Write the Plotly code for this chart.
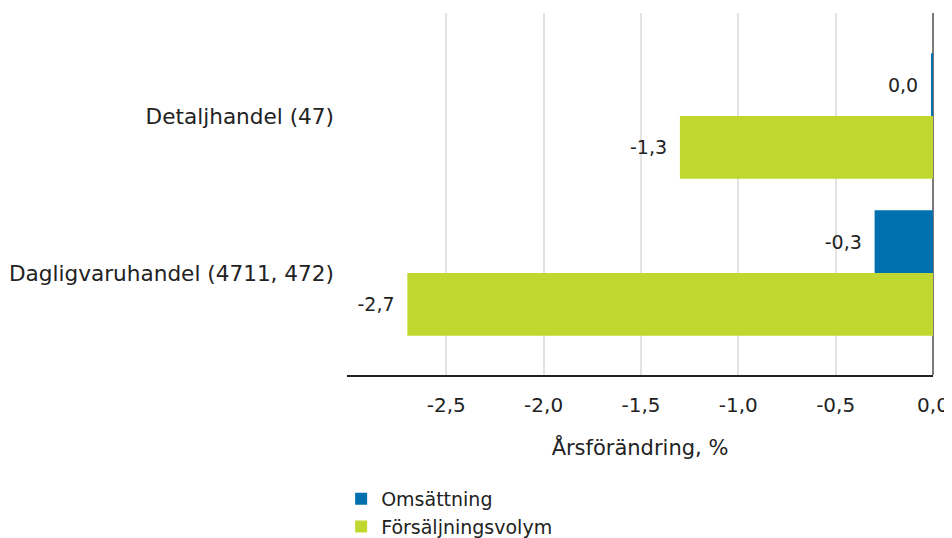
import plotly.graph_objects as go

categories = ["Detaljhandel (47)", "Dagligvaruhandel (4711, 472)"]
series_names = ["Omsättning", "Försäljningsvolym"]
omsattning = [-0.01, -0.3]
forsaljningsvolym = [-1.3, -2.7]
omsattning_labels = ["0,0", "-0,3"]
forsaljningsvolym_labels = ["-1,3", "-2,7"]
colors = ["#0070ae", "#c0d730"]
x_tick_values = [-2.5, -2.0, -1.5, -1.0, -0.5, 0.0]
x_tick_labels = ["-2,5", "-2,0", "-1,5", "-1,0", "-0,5", "0,0"]
x_title = "Årsförändring, %"

FONT = "DejaVu Sans"
TXT = "#222222"

fig = go.Figure()
for name, vals, labels, col in zip(series_names,
                                   [omsattning, forsaljningsvolym],
                                   [omsattning_labels, forsaljningsvolym_labels],
                                   colors):
    fig.add_trace(go.Bar(
        y=categories, x=vals, name=name, orientation="h",
        legendgroup=name,
        marker=dict(color=col, line=dict(width=0)),
        text=labels, texttemplate="%{text}\u00a0\u2009", textposition="outside",
        textfont=dict(family=FONT, size=19, color=TXT),
        cliponaxis=False,
    ))

# the page body adds an 8px offset, so the figure is drawn 8px smaller
fig.update_layout(
    template="none",
    width=944, height=530,
    margin=dict(l=339, r=19, t=5, b=163, pad=0, autoexpand=False),
    plot_bgcolor="white", paper_bgcolor="white",
    barmode="group", bargap=0.2, bargroupgap=0,
    separators=", ",
    font=dict(family=FONT, size=20, color=TXT),
    showlegend=True,
    legend=dict(
        orientation="v", x=-0.010, xanchor="left", y=-0.29, yanchor="top",
        font=dict(family=FONT, size=19, color=TXT),
        traceorder="grouped", tracegroupgap=0, itemclick=False,
        bgcolor="rgba(0,0,0,0)",
    ),
    xaxis=dict(
        automargin=False,
        range=[-3.01, 0.0], tickvals=x_tick_values, ticktext=x_tick_labels,
        showgrid=True, gridcolor="#e3e3e3", gridwidth=1.5,
        zeroline=True, zerolinecolor="#7a7a7a", zerolinewidth=2,
        showline=True, linecolor="#222222", linewidth=2,
        ticks="", ticklabelstandoff=11,
        tickfont=dict(family=FONT, size=20, color=TXT),
        title=dict(text=x_title, font=dict(family=FONT, size=21, color=TXT), standoff=24),
        layer="above traces",
    ),
    yaxis=dict(
        automargin=False,
        type="category", range=[1.65, -0.656],
        showgrid=False, zeroline=False, showline=False,
        ticks="", ticklabelstandoff=12,
        tickfont=dict(family=FONT, size=21.6, color=TXT),
    ),
)

fig.write_html("out.html")
